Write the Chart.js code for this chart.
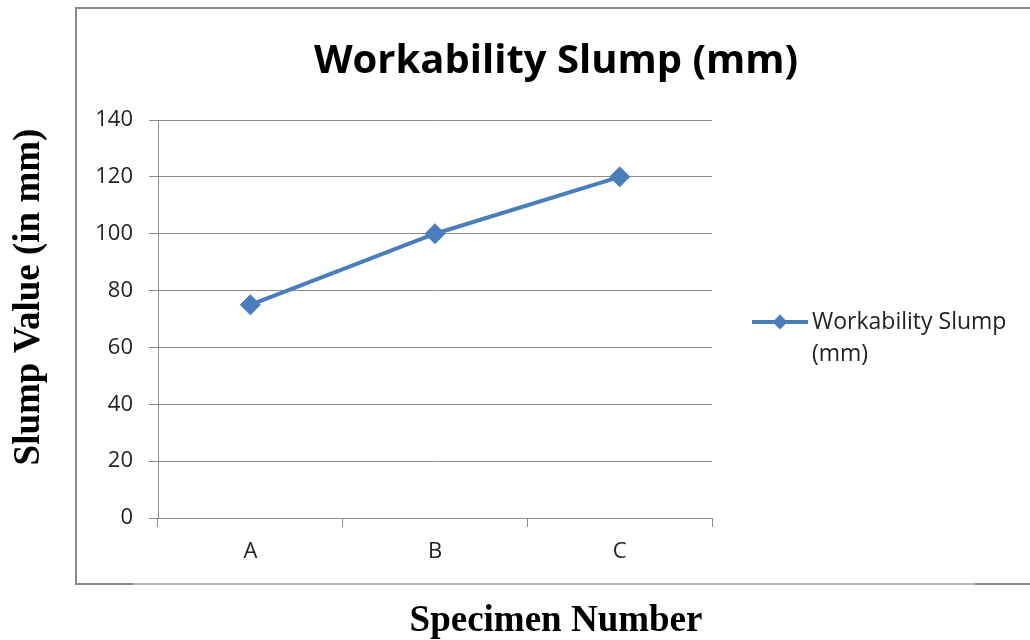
<!DOCTYPE html>
<html>
<head>
<meta charset="utf-8">
<title>Workability Slump (mm)</title>
<script src="https://cdn.jsdelivr.net/npm/chart.js@4.4.1/dist/chart.umd.min.js"></script>
<style>
  html, body { margin: 0; padding: 0; background: #fff; }
  #wrap { width: 1030px; height: 640px; position: relative; }
</style>
</head>
<body>
<div id="wrap"><canvas id="slumpChart"></canvas></div>
<script>
const specimens = ["A", "B", "C"];
const slumpValues = [75, 100, 120];
const slumpTicks = [0, 20, 40, 60, 80, 100, 120, 140];
const seriesName = "Workability Slump (mm)";
const legendLines = ["Workability Slump", "(mm)"];
const xTitle = "Specimen Number";
const yTitle = "Slump Value (in mm)";

const blue = "#4a7ebb";
const grey = "#8c8c8c";
const tickFont = { family: "Open Sans", size: 22 };

// grey frame round the chart, the title, and the two axis titles
// (these sit centred on the frame, not on the plot area)
const framePlugin = {
  id: "frame",
  afterDraw(chart) {
    const ctx = chart.ctx;
    const left = 76, top = 8, bottom = 584;
    const midX = 556, midY = 297;
    ctx.save();
    ctx.lineWidth = 2;
    ctx.strokeStyle = "#8a8a8a";
    ctx.beginPath();
    ctx.moveTo(left, bottom + 1);
    ctx.lineTo(left, top);
    ctx.lineTo(chart.width, top);
    ctx.stroke();
    ctx.strokeStyle = "#b8b8b8";
    ctx.beginPath();
    ctx.moveTo(left, bottom);
    ctx.lineTo(chart.width, bottom);
    ctx.stroke();
    ctx.strokeStyle = "#8a8a8a";
    ctx.beginPath();
    ctx.moveTo(left, bottom);
    ctx.lineTo(left + 57, bottom);
    ctx.moveTo(975, bottom);
    ctx.lineTo(chart.width, bottom);
    ctx.stroke();

    ctx.fillStyle = "#000";
    ctx.textAlign = "center";
    ctx.textBaseline = "alphabetic";
    ctx.font = "bold 40px 'Open Sans'";
    ctx.fillText(seriesName, midX, 73);

    ctx.font = "bold 37px 'Liberation Serif'";
    ctx.fillText(xTitle, midX, 631);

    ctx.translate(38.5, midY);
    ctx.rotate(-Math.PI / 2);
    ctx.fillText(yTitle, 0, 0);
    ctx.restore();
  }
};

// legend to the right of the plot: line with a diamond, text on two lines
const sideLegend = {
  id: "sideLegend",
  afterDraw(chart) {
    const ctx = chart.ctx;
    const area = chart.chartArea;
    const x = area.right + 40;
    const y = (area.top + area.bottom) / 2 + 3;
    ctx.save();
    ctx.strokeStyle = blue;
    ctx.lineWidth = 4;
    ctx.beginPath();
    ctx.moveTo(x, y);
    ctx.lineTo(x + 56, y);
    ctx.stroke();
    ctx.fillStyle = blue;
    ctx.beginPath();
    ctx.moveTo(x + 28, y - 7.5);
    ctx.lineTo(x + 35.5, y);
    ctx.lineTo(x + 28, y + 7.5);
    ctx.lineTo(x + 20.5, y);
    ctx.closePath();
    ctx.fill();

    ctx.fillStyle = "#222";
    ctx.font = "23px 'Open Sans'";
    ctx.textAlign = "left";
    ctx.textBaseline = "middle";
    legendLines.forEach((line, i) => ctx.fillText(line, x + 60, y + i * 32));
    ctx.restore();
  }
};

new Chart(document.getElementById("slumpChart"), {
  type: "line",
  data: {
    labels: specimens,
    datasets: [{
      label: seriesName,
      data: slumpValues,
      borderColor: blue,
      backgroundColor: blue,
      borderWidth: 4,
      tension: 0,
      pointStyle: "rectRot",
      pointRadius: 10,
      pointHoverRadius: 10,
      pointBackgroundColor: blue,
      pointBorderColor: blue,
      pointBorderWidth: 1
    }]
  },
  options: {
    responsive: true,
    maintainAspectRatio: false,
    animation: false,
    layout: { padding: { top: 120, right: 318, bottom: 0, left: 0 } },
    plugins: {
      legend: { display: false },
      tooltip: { enabled: false }
    },
    scales: {
      x: {
        offset: true,
        grid: { offset: true, drawOnChartArea: false, tickLength: 9, color: grey },
        border: { color: grey },
        ticks: { font: tickFont, color: "#222", padding: 12 },
        afterFit(scale) { scale.height = 122; }
      },
      y: {
        min: 0,
        max: 140,
        afterBuildTicks(scale) { scale.ticks = slumpTicks.map(v => ({ value: v })); },
        grid: { tickLength: 9, color: grey },
        border: { color: grey },
        ticks: { font: tickFont, color: "#222", padding: 16 },
        afterFit(scale) { scale.width = 158; }
      }
    }
  },
  plugins: [framePlugin, sideLegend]
});
</script>
</body>
</html>
